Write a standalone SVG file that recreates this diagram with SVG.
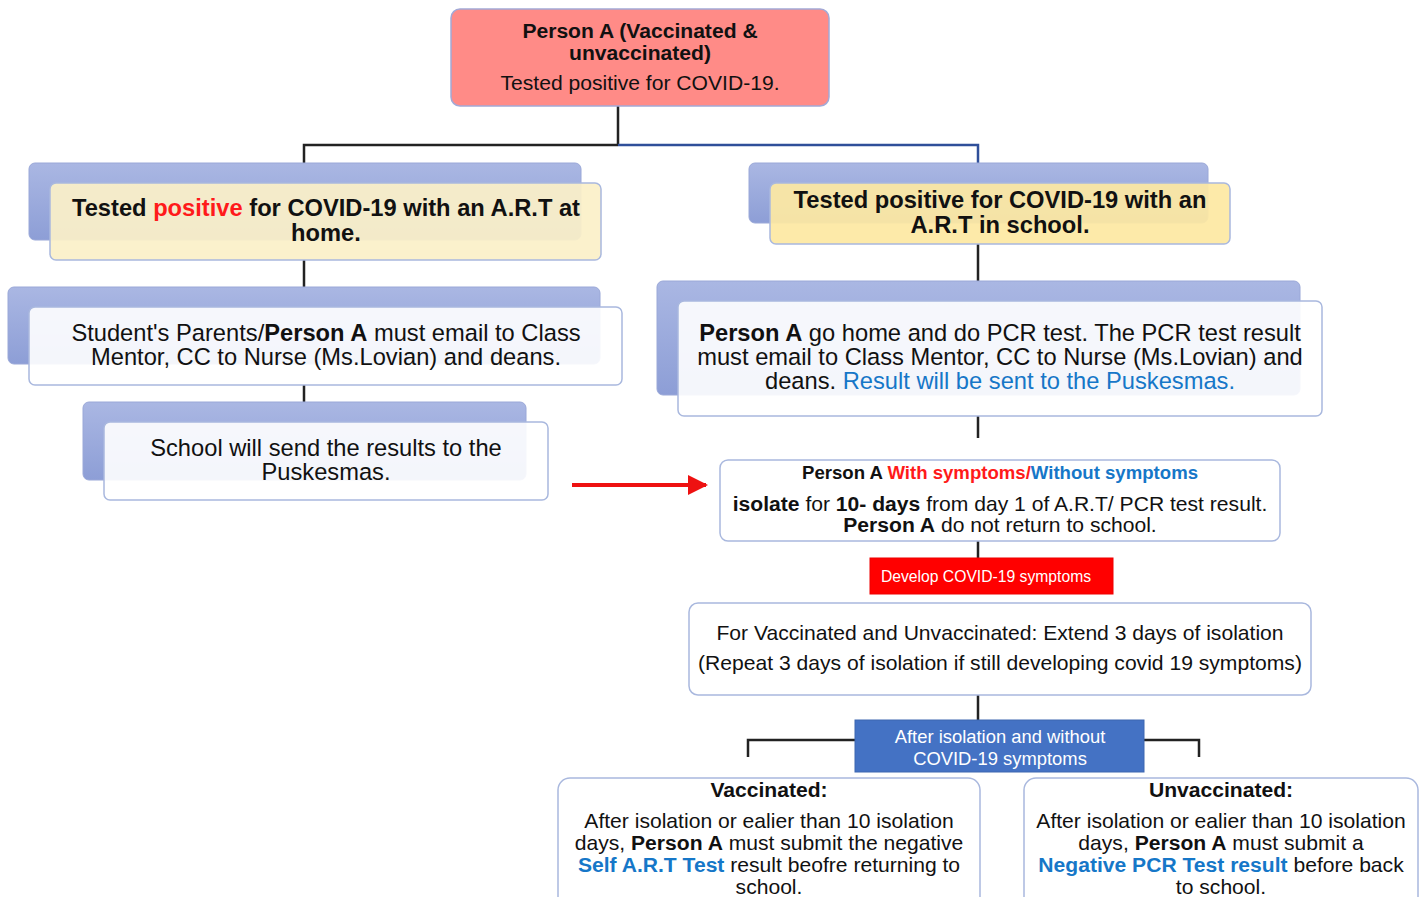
<svg xmlns="http://www.w3.org/2000/svg" width="1425" height="897" viewBox="0 0 1425 897">
<defs>
<linearGradient id="back" x1="0" y1="0" x2="0" y2="1">
<stop offset="0" stop-color="#aab7e3"/>
<stop offset="1" stop-color="#8d9ed6"/>
</linearGradient>
<marker id="redhead" viewBox="0 0 10 10" refX="9" refY="5" markerWidth="5" markerHeight="5" markerUnits="strokeWidth" orient="auto">
<path d="M0,0 L10,5 L0,10 z" fill="#ee1111"/>
</marker>
<style>
text{font-family:"Liberation Sans",Arial,sans-serif;fill:#111;text-anchor:middle}
.b{font-weight:bold}
.back{fill:url(#back);stroke:#9aa8d8;stroke-width:1}
.front{stroke:#a9b8de;stroke-width:1.5}
.cream{fill:#fbf0c8;fill-opacity:0.93}
.yellow{fill:#fde8a2;fill-opacity:0.93}
.white{fill:#ffffff;fill-opacity:0.9}
.box{fill:#fff;stroke:#a9b8de;stroke-width:1.5}
.line{stroke:#222;stroke-width:2.5;fill:none}
.blue{fill:#1677c8}
.red{fill:#ff1a1a}
.wt{fill:#fff}
.big{font-size:23.7px}
.mid{font-size:21.1px}
</style>
</defs>
<g id="connectors">
<path class="line" d="M618,106 V145 M618,145 H304 V163"/>
<path d="M618,145 H978 V163" stroke="#2f4f9a" stroke-width="2.5" fill="none"/>
<path class="line" d="M304,260 V287 M304,385 V402"/>
<path class="line" d="M978,244 V281 M978,416 V438 M978,541 V558 M978,695 V720"/>
<path class="line" d="M855,740 H748 V757 M1144,740 H1199 V757"/>
<line x1="572" y1="485" x2="706" y2="485" stroke="#ee1111" stroke-width="4" marker-end="url(#redhead)"/>
</g>
<g id="node-top">
<rect x="451" y="9" width="378" height="97" rx="9" fill="#ff8b87" stroke="#a3a9d6" stroke-width="1.5"/>
<text class="b mid" x="640" y="38">Person A (Vaccinated &amp;</text>
<text class="b mid" x="640" y="60">unvaccinated)</text>
<text class="mid" x="640" y="90">Tested positive for COVID-19.</text>
</g>
<g id="node-home">
<rect class="back" x="29" y="163" width="552" height="77" rx="6"/>
<rect class="front cream" x="50" y="183" width="551" height="77" rx="6"/>
<text class="b big" x="326" y="216">Tested <tspan class="red">positive</tspan> for COVID-19 with an A.R.T at</text>
<text class="b big" x="326" y="241">home.</text>
</g>
<g id="node-email">
<rect class="back" x="8" y="287" width="592" height="77" rx="6"/>
<rect class="front white" x="29" y="307" width="593" height="78" rx="6"/>
<text class="big" x="326" y="341">Student's Parents/<tspan class="b">Person A</tspan> must email to Class</text>
<text class="big" x="326" y="365">Mentor, CC to Nurse (Ms.Lovian) and deans.</text>
</g>
<g id="node-school-send">
<rect class="back" x="83" y="402" width="443" height="78" rx="6"/>
<rect class="front white" x="104" y="422" width="444" height="78" rx="6"/>
<text class="big" x="326" y="456">School will send the results to the</text>
<text class="big" x="326" y="480">Puskesmas.</text>
</g>
<g id="node-inschool">
<rect class="back" x="749" y="163" width="459" height="60" rx="6"/>
<rect class="front yellow" x="770" y="183" width="460" height="61" rx="6"/>
<text class="b big" x="1000" y="208">Tested positive for COVID-19 with an</text>
<text class="b big" x="1000" y="233">A.R.T in school.</text>
</g>
<g id="node-pcr">
<rect class="back" x="657" y="281" width="643" height="114" rx="6"/>
<rect class="front white" x="678" y="301" width="644" height="115" rx="6"/>
<text class="big" x="1000" y="341"><tspan class="b">Person A</tspan> go home and do PCR test. The PCR test result</text>
<text class="big" x="1000" y="365">must email to Class Mentor, CC to Nurse (Ms.Lovian) and</text>
<text class="big" x="1000" y="389">deans. <tspan class="blue">Result will be sent to the Puskesmas.</tspan></text>
</g>
<g id="node-isolate">
<rect class="box" x="720" y="460" width="560" height="81" rx="8"/>
<text class="b" font-size="18.6" x="1000" y="479">Person A <tspan class="red">With symptoms/</tspan><tspan class="blue">Without symptoms</tspan></text>
<text class="mid" x="1000" y="511"><tspan class="b">isolate</tspan> for <tspan class="b">10- days</tspan> from day 1 of A.R.T/ PCR test result.</text>
<text class="mid" x="1000" y="532"><tspan class="b">Person A</tspan> do not return to school.</text>
</g>
<g id="node-develop">
<rect x="870" y="558" width="243" height="36" fill="#ff0000" stroke="#e00" stroke-width="1"/>
<text class="wt" font-size="15.7" x="986" y="582">Develop COVID-19 symptoms</text>
</g>
<g id="node-extend">
<rect class="box" x="689" y="603" width="622" height="92" rx="9"/>
<text class="mid" x="1000" y="640">For Vaccinated and Unvaccinated: Extend 3 days of isolation</text>
<text class="mid" x="1000" y="670">(Repeat 3 days of isolation if still developing covid 19 symptoms)</text>
</g>
<g id="node-after">
<rect x="855" y="720" width="289" height="52" fill="#4472c4" stroke="#3d66b0" stroke-width="1"/>
<text class="wt" font-size="18.4" x="1000" y="743">After isolation and without</text>
<text class="wt" font-size="18.4" x="1000" y="765">COVID-19 symptoms</text>
</g>
<g id="node-vaccinated">
<rect class="box" x="558" y="778" width="422" height="135" rx="12"/>
<text class="b mid" x="769" y="797">Vaccinated:</text>
<text class="mid" x="769" y="828">After isolation or ealier than 10 isolation</text>
<text class="mid" x="769" y="850">days, <tspan class="b">Person A</tspan> must submit the negative</text>
<text class="mid" x="769" y="872"><tspan class="b blue">Self A.R.T Test</tspan> result beofre returning to</text>
<text class="mid" x="769" y="894">school.</text>
</g>
<g id="node-unvaccinated">
<rect class="box" x="1024" y="778" width="394" height="135" rx="12"/>
<text class="b mid" x="1221" y="797">Unvaccinated:</text>
<text class="mid" x="1221" y="828">After isolation or ealier than 10 isolation</text>
<text class="mid" x="1221" y="850">days, <tspan class="b">Person A</tspan> must submit a</text>
<text class="mid" x="1221" y="872"><tspan class="b blue">Negative PCR Test result</tspan> before back</text>
<text class="mid" x="1221" y="894">to school.</text>
</g>
</svg>
